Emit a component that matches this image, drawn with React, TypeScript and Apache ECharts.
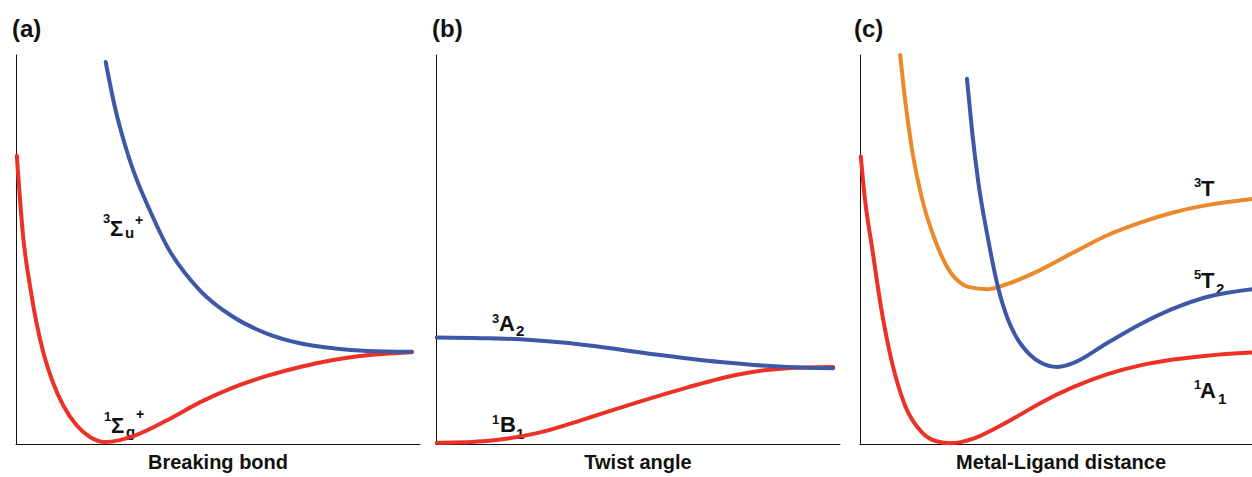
import React, { useEffect, useRef } from "react";
import * as echarts from "echarts";

// ---- data (arbitrary energy units, x: coordinate, y: energy 0-10) ----
const panelNames = ["Breaking bond", "Twist angle", "Metal-Ligand distance"];
const panelTags = ["(a)", "(b)", "(c)"];
const panelXMax = [10, 10, 9.75];

// Panel (a)
const sigmaG: number[][] = [
  [0.02, 7.41], [0.18, 5.3], [0.35, 4.04], [0.51, 3.1], [0.68, 2.34], [0.92, 1.57],
  [1.17, 0.99], [1.5, 0.48], [1.83, 0.18], [2.2, 0.05], [2.57, 0.1], [2.9, 0.2],
  [3.74, 0.61], [4.55, 1.07], [5.37, 1.45], [6.21, 1.75], [7.03, 1.98], [7.85, 2.16],
  [8.69, 2.28], [9.8, 2.36],
];
const sigmaU: number[][] = [
  [2.22, 9.82], [2.45, 8.65], [2.7, 7.68], [2.9, 7.04], [3.32, 5.99], [3.73, 5.1],
  [4.55, 3.95], [5.37, 3.27], [6.21, 2.84], [7.03, 2.59], [7.85, 2.46], [8.69, 2.39],
  [9.8, 2.37],
];

// Panel (b)
const stateA2: number[][] = [
  [0.02, 2.74], [1.26, 2.72], [2.08, 2.69], [3.74, 2.54], [5.37, 2.31], [7.03, 2.11],
  [8.69, 1.98], [9.83, 1.95],
];
const stateB1: number[][] = [
  [0.02, 0.03], [1.26, 0.08], [2.5, 0.28], [3.74, 0.66], [4.98, 1.07], [6.21, 1.45],
  [7.45, 1.78], [8.69, 1.95], [9.83, 1.98],
];

// Panel (c)
const stateA1: number[][] = [
  [0.02, 7.39], [0.12, 6.32], [0.3, 5.05], [0.55, 3.35], [0.8, 2.08], [1.12, 0.99],
  [1.54, 0.3], [1.9, 0.07], [2.25, 0.02], [2.8, 0.13], [3.36, 0.4], [3.86, 0.68],
  [4.48, 1.05], [5.3, 1.46], [6.14, 1.79], [6.97, 2.02], [7.79, 2.17], [8.63, 2.27],
  [9.75, 2.35],
];
const state3T: number[][] = [
  [1.0, 10.0], [1.12, 8.86], [1.29, 7.59], [1.54, 6.32], [1.87, 5.23], [2.28, 4.37],
  [2.49, 4.15], [2.69, 4.04], [3.18, 3.98], [3.68, 4.12], [4.48, 4.47], [5.3, 4.92],
  [6.14, 5.36], [6.97, 5.69], [7.79, 5.95], [8.63, 6.14], [9.75, 6.3],
];
const state5T2: number[][] = [
  [2.66, 9.39], [2.79, 8.02], [2.94, 6.75], [3.18, 5.3], [3.43, 4.04], [3.68, 3.2],
  [3.86, 2.8], [4.05, 2.5], [4.48, 2.1], [4.9, 1.98], [5.3, 2.08], [6.14, 2.59],
  [6.97, 3.08], [7.79, 3.48], [8.63, 3.78], [9.75, 3.98],
];

const RED = "#EC3127";
const BLUE = "#3E58A8";
const ORANGE = "#EB8A2C";
const FONT = "'Liberation Sans', Arial, sans-serif";

// label pieces: [text, left x, center y, size]
type Piece = [string, number, number, number];
const labelPieces: Piece[] = [
  ["3", 103, 218, 13], ["Σ", 110, 228, 22], ["u", 125, 232, 15], ["+", 135, 220, 14],
  ["1", 104, 416, 13], ["Σ", 111, 425, 22], ["g", 126, 431, 15], ["+", 136, 414, 14],
  ["3", 492, 318, 13], ["A", 499, 323, 22], ["2", 516, 330, 15],
  ["1", 492, 419, 13], ["B", 500, 424, 22], ["1", 516, 433, 15],
  ["3", 1194, 182, 13], ["T", 1201, 188, 22],
  ["5", 1194, 274, 13], ["T", 1201, 280, 22], ["2", 1216, 288, 15],
  ["1", 1194, 384, 13], ["A", 1200, 390, 22], ["1", 1218, 398, 15],
];

const grids = [
  { left: 16, top: 55, width: 404, height: 394 },
  { left: 436, top: 55, width: 404, height: 394 },
  { left: 860, top: 55, width: 392, height: 394 },
];
const tagPos = [12, 432, 854];
const namePad = [0, 0, 10];

// monotone cubic (in screen x) path through screen points
function monotonePath(pts: number[][]): string {
  const n = pts.length;
  if (n < 2) return "";
  const h: number[] = [];
  const s: number[] = [];
  for (let i = 0; i < n - 1; i++) {
    h.push(pts[i + 1][0] - pts[i][0]);
    s.push((pts[i + 1][1] - pts[i][1]) / h[i]);
  }
  const m: number[] = new Array(n).fill(0);
  for (let i = 1; i < n - 1; i++) {
    const s0 = s[i - 1];
    const s1 = s[i];
    if (s0 * s1 <= 0) {
      m[i] = 0;
    } else {
      const p = (s0 * h[i] + s1 * h[i - 1]) / (h[i - 1] + h[i]);
      m[i] = Math.sign(s0) * Math.min(Math.abs(s0), Math.abs(s1), 0.5 * Math.abs(p)) * 2;
      m[i] = Math.sign(s0) * Math.min(Math.abs(m[i]), Math.abs(p));
    }
  }
  m[0] = n > 2 ? (3 * s[0] - m[1]) / 2 : s[0];
  if (Math.sign(m[0]) !== Math.sign(s[0])) m[0] = 0;
  m[n - 1] = n > 2 ? (3 * s[n - 2] - m[n - 2]) / 2 : s[n - 2];
  if (Math.sign(m[n - 1]) !== Math.sign(s[n - 2])) m[n - 1] = 0;
  let d = `M${pts[0][0]},${pts[0][1]}`;
  for (let i = 0; i < n - 1; i++) {
    const [x0, y0] = pts[i];
    const [x1, y1] = pts[i + 1];
    const dx = h[i] / 3;
    d += ` C${x0 + dx},${y0 + m[i] * dx} ${x1 - dx},${y1 - m[i + 1] * dx} ${x1},${y1}`;
  }
  return d;
}

export default function App() {
  const ref = useRef<HTMLDivElement>(null);
  useEffect(() => {
    document.body.style.margin = "0";
    if (!ref.current) return;
    const chart = echarts.init(ref.current, null, { renderer: "svg" });
    const axisCommon = {
      type: "value" as const,
      min: 0,
      max: 10,
      axisTick: { show: false },
      axisLabel: { show: false },
      splitLine: { show: false },
      axisLine: { show: true, onZero: false, lineStyle: { color: "#111", width: 1 } },
    };
    const mk = (data: number[][], idx: number, color: string) => ({
      type: "custom",
      coordinateSystem: "cartesian2d",
      xAxisIndex: idx,
      yAxisIndex: idx,
      data,
      encode: { x: 0, y: 1 },
      clip: false,
      silent: true,
      renderItem: (params: any, api: any) => {
        if (params.dataIndex !== 0) return null;
        const pts = data.map((p) => api.coord(p));
        return {
          type: "path",
          shape: { pathData: monotonePath(pts) },
          style: { stroke: color, lineWidth: 4, fill: "none", lineCap: "round" },
        };
      },
    });
    chart.setOption({
      animation: false,
      backgroundColor: "#fff",
      grid: grids,
      xAxis: grids.map((_, i) => ({
        ...axisCommon,
        max: panelXMax[i],
        gridIndex: i,
        name: panelNames[i],
        nameLocation: "middle",
        nameGap: 8,
        nameTextStyle: {
          fontSize: 20,
          fontWeight: "bold",
          color: "#111",
          fontFamily: FONT,
          verticalAlign: "top",
          padding: [0, 0, 0, namePad[i]],
        },
      })),
      yAxis: grids.map((_, i) => ({ ...axisCommon, gridIndex: i })),
      series: [
        mk(sigmaG, 0, RED),
        mk(sigmaU, 0, BLUE),
        mk(stateB1, 1, RED),
        mk(stateA2, 1, BLUE),
        mk(stateA1, 2, RED),
        mk(state3T, 2, ORANGE),
        mk(state5T2, 2, BLUE),
      ],
      graphic: [
        ...panelTags.map((t, i) => ({
          type: "text",
          left: tagPos[i],
          top: 16,
          style: { text: t, fontSize: 24, fontWeight: "bold", fill: "#111", fontFamily: FONT },
        })),
        ...labelPieces.map(([t, x, y, s]) => ({
          type: "text",
          x,
          y,
          style: {
            text: t,
            fontSize: s,
            fontWeight: "bold",
            fill: "#111",
            fontFamily: FONT,
            align: "left",
            verticalAlign: "middle",
          },
        })),
      ],
    });
    return () => chart.dispose();
  }, []);
  return (
    <div
      ref={ref}
      style={{ position: "absolute", left: 0, top: 0, width: 1252, height: 477 }}
    />
  );
}
